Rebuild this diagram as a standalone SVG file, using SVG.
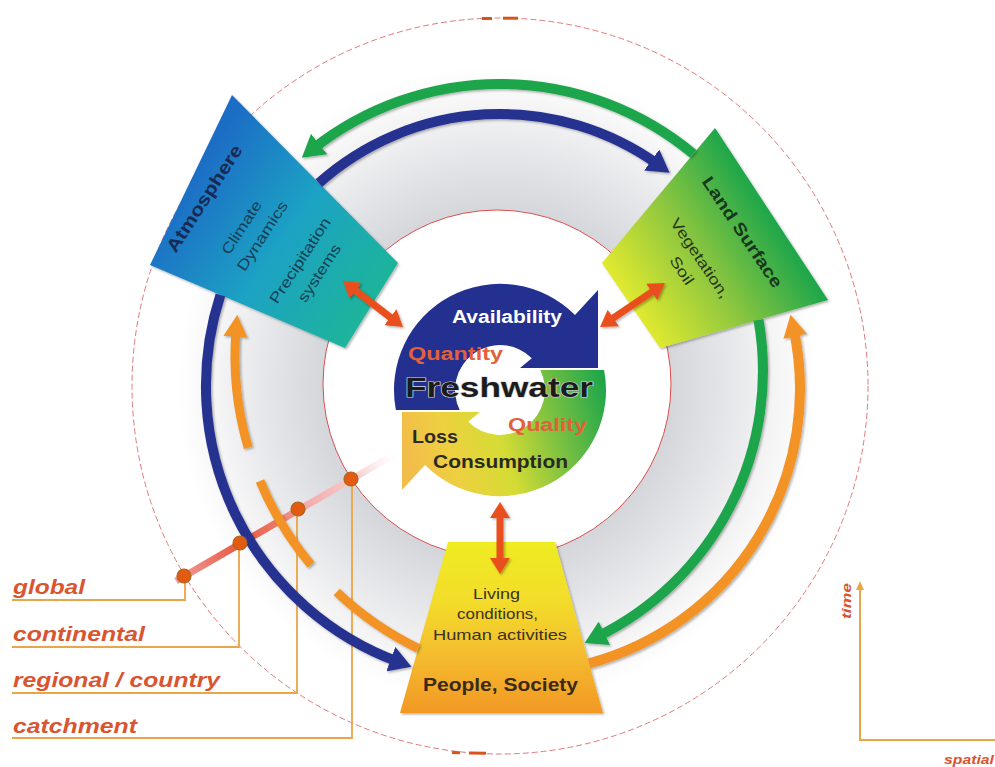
<svg xmlns="http://www.w3.org/2000/svg" width="995" height="767" viewBox="0 0 995 767">
<style>
text{font-family:"Liberation Sans",Arial,Helvetica,sans-serif}
.b{font-weight:bold}
.arc{fill:none;stroke-width:10;stroke-linecap:butt}
.arcs{fill:none;stroke-width:9;stroke-linecap:butt}
.navy{stroke:#283090}
.green{stroke:#1fa54b}
.orange{stroke:#f39325}
.dbl{fill:none;stroke:#e8501c;stroke-width:7}
.lead{fill:none;stroke:#eaa548;stroke-width:1.8}
.scale{font-weight:bold;font-style:italic;fill:#d9552f;font-size:20px}
.dot{fill:#e35b10;stroke:#a8661e;stroke-width:1.2}
.atm{fill:#173f55;font-size:15px}
.land{fill:#25361a;font-size:15px}
.ppl{fill:#3b3320;font-size:15px}
.cyc{font-weight:bold;font-size:18px}
</style>
<defs>
<radialGradient id="gRing" gradientUnits="userSpaceOnUse" cx="497" cy="386" r="320">
<stop offset="0" stop-color="#ffffff"/>
<stop offset="0.52" stop-color="#d3d4d9"/>
<stop offset="0.7" stop-color="#e3e4e7"/>
<stop offset="0.88" stop-color="#f5f5f6"/>
<stop offset="1" stop-color="#ffffff"/>
</radialGradient>
<linearGradient id="gAtm" gradientUnits="userSpaceOnUse" x1="191" y1="180" x2="371" y2="305">
<stop offset="0" stop-color="#1f6ec5"/><stop offset="0.5" stop-color="#1fa2c4"/><stop offset="1" stop-color="#1db49b"/>
</linearGradient>
<linearGradient id="gLand" gradientUnits="userSpaceOnUse" x1="771" y1="214" x2="631" y2="305">
<stop offset="0" stop-color="#1ea64a"/><stop offset="0.5" stop-color="#8cc63f"/><stop offset="1" stop-color="#e0e92f"/>
</linearGradient>
<linearGradient id="gPeople" gradientUnits="userSpaceOnUse" x1="0" y1="542" x2="0" y2="713">
<stop offset="0" stop-color="#efec22"/><stop offset="0.35" stop-color="#f3dc2b"/><stop offset="0.65" stop-color="#f4bd2f"/><stop offset="1" stop-color="#f29824"/>
</linearGradient>
<linearGradient id="gCyc" gradientUnits="userSpaceOnUse" x1="605" y1="385" x2="405" y2="445">
<stop offset="0" stop-color="#1fa64a"/><stop offset="0.3" stop-color="#7fc241"/><stop offset="0.55" stop-color="#d4dc34"/><stop offset="0.8" stop-color="#eed040"/><stop offset="1" stop-color="#f2bd4a"/>
</linearGradient>
<linearGradient id="gPink" gradientUnits="userSpaceOnUse" x1="176" y1="581" x2="402" y2="450">
<stop offset="0" stop-color="#f2a0a0"/><stop offset="0.28" stop-color="#e8583f"/><stop offset="0.45" stop-color="#ec7a68"/><stop offset="0.58" stop-color="#f4abab"/><stop offset="0.8" stop-color="#f8cdcd"/><stop offset="1" stop-color="#ffffff" stop-opacity="0"/>
</linearGradient>
<filter id="sh" x="-20%" y="-20%" width="140%" height="140%">
<feDropShadow dx="1.5" dy="1.5" stdDeviation="1.2" flood-color="#000" flood-opacity="0.3"/>
</filter>
<marker id="hNavy" markerUnits="userSpaceOnUse" viewBox="0 -13 22 26" refX="8" refY="0" markerWidth="22" markerHeight="26" orient="auto"><path d="M0,-13 L22,0 L0,13 Z" fill="#283090"/></marker>
<marker id="hGreen" markerUnits="userSpaceOnUse" viewBox="0 -13 22 26" refX="8" refY="0" markerWidth="22" markerHeight="26" orient="auto"><path d="M0,-13 L22,0 L0,13 Z" fill="#1fa54b"/></marker>
<marker id="hOrange" markerUnits="userSpaceOnUse" viewBox="0 -12 22 24" refX="8" refY="0" markerWidth="22" markerHeight="24" orient="auto"><path d="M0,-12 L22,0 L0,12 Z" fill="#f39325"/></marker>
<marker id="hRed" markerUnits="userSpaceOnUse" viewBox="0 -10 16 20" refX="3" refY="0" markerWidth="16" markerHeight="20" orient="auto-start-reverse"><path d="M0,-10 L16,0 L0,10 Z" fill="#e8501c"/></marker>
<marker id="hAxis" markerUnits="userSpaceOnUse" viewBox="0 -4 9 8" refX="2" refY="0" markerWidth="9" markerHeight="8" orient="auto"><path d="M0,-4 L9,0 L0,4 Z" fill="#eaa548"/></marker>
</defs>

<rect width="995" height="767" fill="#ffffff"/>

<g id="background">
<circle cx="497" cy="386" r="320" fill="url(#gRing)"/>
<circle cx="500" cy="386" r="368" fill="none" stroke="#e07a7a" stroke-width="1" stroke-dasharray="6 3"/>
<line x1="482" y1="18.5" x2="492" y2="18.5" stroke="#d9541c" stroke-width="3"/>
<line x1="503" y1="18.2" x2="518" y2="18.2" stroke="#d9541c" stroke-width="3"/>
<line x1="452" y1="752.5" x2="460" y2="752.8" stroke="#d9541c" stroke-width="3"/>
<line x1="469" y1="753" x2="486" y2="753.3" stroke="#d9541c" stroke-width="3"/>
<circle cx="497" cy="384" r="174" fill="#ffffff" stroke="#d94f4f" stroke-width="1"/>
</g>

<g id="scale-lines">
<line x1="176" y1="581" x2="402" y2="450" stroke="url(#gPink)" stroke-width="7"/>
<polyline class="lead" points="185,576 185,600 12,600"/>
<polyline class="lead" points="239,543 239,647 12,647"/>
<polyline class="lead" points="297,509 297,693 12,693"/>
<polyline class="lead" points="352,479 352,738 12,738"/>
</g>

<g id="atmosphere">
<polygon points="232,95 398,263 345,348 150,265" fill="url(#gAtm)" filter="url(#sh)"/>
<g transform="translate(204.5,198.5) rotate(-57)">
<text class="b" x="0" y="6" font-size="18" fill="#182a52" text-anchor="middle" textLength="124" lengthAdjust="spacingAndGlyphs">Atmosphere</text>
<text class="atm" x="-4" y="52" text-anchor="middle" textLength="61" lengthAdjust="spacingAndGlyphs">Climate</text>
<text class="atm" x="0" y="74" text-anchor="middle" textLength="80" lengthAdjust="spacingAndGlyphs">Dynamics</text>
<text class="atm" x="0" y="119" text-anchor="middle" textLength="99" lengthAdjust="spacingAndGlyphs">Precipitation</text>
<text class="atm" x="0" y="142" text-anchor="middle" textLength="66" lengthAdjust="spacingAndGlyphs">systems</text>
</g>
</g>

<g id="land-surface">
<polygon points="715,128 828,300 660,348 602,263" fill="url(#gLand)" filter="url(#sh)"/>
<g transform="translate(742.5,232) rotate(56)">
<text class="b" x="0" y="6" font-size="17" fill="#17361c" text-anchor="middle" textLength="130" lengthAdjust="spacingAndGlyphs">Land Surface</text>
<text class="land" x="-2" y="55" text-anchor="middle" textLength="93" lengthAdjust="spacingAndGlyphs">Vegetation,</text>
<text class="land" x="-2" y="77" text-anchor="middle" textLength="31" lengthAdjust="spacingAndGlyphs">Soil</text>
</g>
</g>

<g id="people-society">
<polygon points="448,542 555,542 603,713 400,713" fill="url(#gPeople)" filter="url(#sh)"/>
<text class="ppl" x="496.5" y="599" text-anchor="middle" textLength="47" lengthAdjust="spacingAndGlyphs">Living</text>
<text class="ppl" x="497.5" y="619" text-anchor="middle" textLength="81" lengthAdjust="spacingAndGlyphs">conditions,</text>
<text class="ppl" x="500" y="640" text-anchor="middle" textLength="134" lengthAdjust="spacingAndGlyphs">Human activities</text>
<text class="b" x="500.5" y="691" font-size="19" fill="#3a2a18" text-anchor="middle" textLength="155" lengthAdjust="spacingAndGlyphs">People, Society</text>
</g>

<g id="freshwater">
<path d="M395.9,410 A106,106 0 0 1 575,315 L598,290 L598,368 L520,368 L531.8,358.2 A45,45 0 0 0 459.7,410 Z" fill="#23308f"/>
<path d="M604.1,370 A106,106 0 0 1 425,465 L402,490 L402,412 L480,412 L468.2,421.8 A45,45 0 0 0 540.3,370 Z" fill="url(#gCyc)"/>
<text class="cyc" x="452" y="323" fill="#ffffff" textLength="110" lengthAdjust="spacingAndGlyphs">Availability</text>
<text class="cyc" x="408" y="360" font-size="20" fill="#e2603a" textLength="95" lengthAdjust="spacingAndGlyphs">Quantity</text>
<text x="405" y="397" font-size="27" font-weight="bold" fill="#1c1c1c" stroke="#d8d8d8" stroke-width="1.2" paint-order="stroke" textLength="188" lengthAdjust="spacingAndGlyphs">Freshwater</text>
<text class="cyc" x="508" y="431" fill="#e2603a" textLength="79" lengthAdjust="spacingAndGlyphs">Quality</text>
<text class="cyc" x="412" y="443" fill="#2a2a22" textLength="46" lengthAdjust="spacingAndGlyphs">Loss</text>
<text class="cyc" x="433" y="468" font-size="17" fill="#2a2a22" textLength="135" lengthAdjust="spacingAndGlyphs">Consumption</text>
</g>

<g id="connectors" filter="url(#sh)">
<path class="arc green" d="M693.3,153.9 A302,302 0 0 0 312.8,149" marker-end="url(#hGreen)"/>
<path class="arc green" d="M758.5,319.8 A296,296 0 0 1 597.2,636.8" marker-end="url(#hGreen)"/>
<path class="arc navy" d="M318.9,183 A272,272 0 0 1 658.2,164.7" marker-end="url(#hNavy)"/>
<path class="arc navy" d="M220.4,295 A294,294 0 0 0 398.3,661.9" marker-end="url(#hNavy)"/>
<path class="arcs orange" d="M248.2,447.7 A325,325 0 0 1 236.1,328.8" marker-end="url(#hOrange)"/>
<path class="arcs orange" d="M260,480.9 A325,325 0 0 0 311,564.9"/>
<path class="arcs orange" d="M336.7,592.1 A325,325 0 0 0 418.1,648.4"/>
<path class="arc orange" d="M589.1,663.4 A284,284 0 0 0 793.5,328.5" marker-end="url(#hOrange)"/>
<path class="dbl" d="M353.3,288.9 L392.7,319.1" marker-start="url(#hRed)" marker-end="url(#hRed)"/>
<path class="dbl" d="M610.8,319.7 L654.2,290.3" marker-start="url(#hRed)" marker-end="url(#hRed)"/>
<path class="dbl" d="M500,515 L500,561" marker-start="url(#hRed)" marker-end="url(#hRed)"/>
</g>

<g id="scale-markers">
<circle class="dot" cx="184" cy="576" r="7"/>
<circle class="dot" cx="240" cy="543" r="7"/>
<circle class="dot" cx="298" cy="509" r="7"/>
<circle class="dot" cx="351" cy="479" r="7"/>
<text class="scale" x="13" y="594" textLength="72" lengthAdjust="spacingAndGlyphs">global</text>
<text class="scale" x="13" y="641" textLength="132" lengthAdjust="spacingAndGlyphs">continental</text>
<text class="scale" x="13" y="687" textLength="207" lengthAdjust="spacingAndGlyphs">regional / country</text>
<text class="scale" x="13" y="733" textLength="124" lengthAdjust="spacingAndGlyphs">catchment</text>
</g>

<g id="axes">
<path d="M860,740 L860,588" fill="none" stroke="#eaa548" stroke-width="2" marker-end="url(#hAxis)"/>
<line x1="859" y1="740" x2="995" y2="740" stroke="#eaa548" stroke-width="2"/>
<text transform="translate(851,601) rotate(-90)" text-anchor="middle" font-size="13" font-weight="bold" font-style="italic" fill="#d9552f" textLength="36" lengthAdjust="spacingAndGlyphs">time</text>
<text x="944" y="764" font-size="13" font-weight="bold" font-style="italic" fill="#d9552f" textLength="50" lengthAdjust="spacingAndGlyphs">spatial</text>
</g>
</svg>
